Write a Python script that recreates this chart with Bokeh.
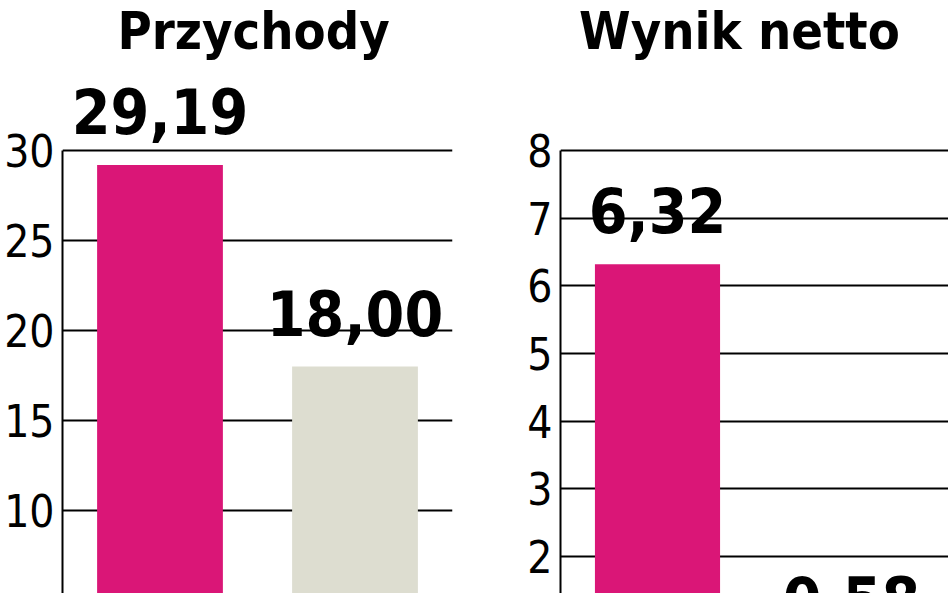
from bokeh.plotting import figure
from bokeh.layouts import row
from bokeh.models import Range1d, FixedTicker, ColumnDataSource
from bokeh.core.properties import value
from bokeh.embed import file_html
from bokeh.resources import INLINE

# ---- data ----
periods = ["okres 1", "okres 2"]
bar_colors = ["#DA1677", "#DDDDD0"]

rev_title = "Przychody"
rev_values = [29.19, 18.00]
rev_ticks = [5, 10, 15, 20, 25, 30]

net_title = "Wynik netto"
net_values = [6.32, 0.58]
net_ticks = [1, 2, 3, 4, 5, 6, 7, 8]

HEIGHT = 593
BOLD_FONT = "DejaVu Sans Condensed"
TICK_FONT = "DejaVu Sans Condensed"


def make_panel(title, values, ticks, width, b_left, b_right, px_per_unit, top_px, title_dx):
    frame_h = HEIGHT
    y_end = max(ticks) + top_px / px_per_unit
    y_start = y_end - frame_h / px_per_unit
    n = len(values)
    p = figure(width=width, height=HEIGHT, output_backend="svg", toolbar_location=None,
               x_range=Range1d(0, n), y_range=Range1d(y_start, y_end),
               min_border_left=b_left, min_border_right=b_right,
               min_border_top=0, min_border_bottom=0)
    p.outline_line_color = None
    p.background_fill_color = "white"
    p.border_fill_color = "white"
    p.xaxis.visible = False
    p.xgrid.visible = False

    p.yaxis.ticker = FixedTicker(ticks=ticks)
    p.yaxis.bounds = (y_start, max(ticks))
    p.yaxis.axis_line_color = "black"
    p.yaxis.axis_line_width = 2
    p.yaxis.major_tick_line_color = None
    p.yaxis.minor_tick_line_color = None
    p.yaxis.major_tick_out = 0
    p.yaxis.major_tick_in = 0
    p.yaxis.minor_tick_out = 0
    p.yaxis.minor_tick_in = 0
    p.yaxis.major_label_text_font = TICK_FONT
    p.yaxis.major_label_text_font_size = "44px"
    p.yaxis.major_label_text_color = "black"
    p.yaxis.major_label_standoff = 8

    p.ygrid.ticker = FixedTicker(ticks=ticks)
    p.ygrid.grid_line_color = "black"
    p.ygrid.grid_line_width = 2
    p.ygrid.level = "underlay"

    src = ColumnDataSource(dict(
        x=[i + 0.5 for i in range(n)],
        top=values,
        color=bar_colors[:n],
        label=[f"{v:.2f}".replace(".", ",") for v in values],
        period=periods[:n],
    ))
    p.vbar(x="x", top="top", bottom=0, width=0.645, fill_color="color",
           line_color=None, source=src)
    p.text(x="x", y="top", text="label", source=src, y_offset=-54,
           text_align="center", text_baseline="alphabetic",
           text_font=value(BOLD_FONT), text_font_style="bold",
           text_font_size="62px", text_color="black")

    tsrc = ColumnDataSource(dict(x=[n / 2], y=[y_end], t=[title]))
    p.text(x="x", y="y", text="t", source=tsrc, x_offset=title_dx, y_offset=30,
           text_align="center", text_baseline="alphabetic",
           text_font=value(BOLD_FONT), text_font_style="bold",
           text_font_size="52px", text_color="black")
    return p


left = make_panel(rev_title, rev_values, rev_ticks, 474, 62, 22, 18.0, 150, -4)
right = make_panel(net_title, net_values, net_ticks, 474, 86, 0, 67.67, 150, -15)

layout = row(left, right)
open("out.html", "w").write(file_html(layout, INLINE))
